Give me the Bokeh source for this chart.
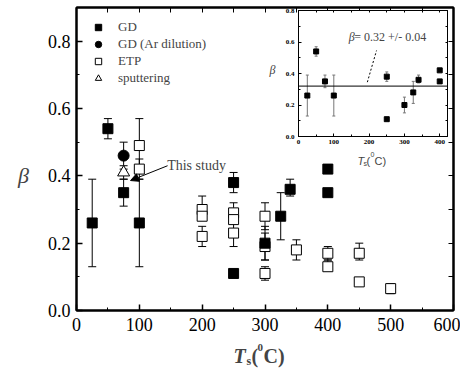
from bokeh.plotting import figure
from bokeh.models import (Range1d, LinearAxis, Whisker, TeeHead, ColumnDataSource, Legend, LegendItem,
                          Label, Arrow, NormalHead, Span, SingleIntervalTicker, FixedTicker,
                          PrintfTickFormatter)
from bokeh.embed import file_html
from bokeh.resources import INLINE

# ---------------- data ----------------
gd_T = [25, 50, 75, 100, 250, 250, 300, 325, 340, 400, 400]
gd_beta = [0.26, 0.54, 0.35, 0.26, 0.38, 0.11, 0.20, 0.28, 0.36, 0.42, 0.35]
gd_err_T = [25, 50, 75, 100, 250, 300, 325, 340]
gd_err_lo = [0.13, 0.51, 0.31, 0.13, 0.35, 0.15, 0.21, 0.34]
gd_err_hi = [0.39, 0.57, 0.39, 0.39, 0.41, 0.25, 0.35, 0.39]

ar_T = [75]
ar_beta = [0.46]
ar_lo = [0.42]
ar_hi = [0.50]

sp_T = [75]
sp_beta = [0.41]
sp_lo = [0.39]
sp_hi = [0.43]

etp_T = [100, 100, 200, 200, 200, 250, 250, 250, 300, 300, 300, 350, 400, 400, 450, 450, 500]
etp_beta = [0.49, 0.42, 0.30, 0.28, 0.22, 0.29, 0.27, 0.23, 0.28, 0.19, 0.11, 0.18, 0.17, 0.13, 0.17, 0.085, 0.065]
etp_err_T = [100, 100, 200, 200, 250, 250, 300, 300, 300, 350, 400, 400, 450, 500]
etp_err_lo = [0.41, 0.39, 0.27, 0.19, 0.27, 0.19, 0.24, 0.15, 0.09, 0.15, 0.15, 0.12, 0.15, 0.05]
etp_err_hi = [0.57, 0.45, 0.34, 0.25, 0.32, 0.26, 0.32, 0.23, 0.13, 0.21, 0.19, 0.15, 0.20, 0.08]

fit_beta = 0.32
fit_label = "= 0.32 +/- 0.04"
main_x_minor = [v * 50 for v in range(0, 13)]
main_y_minor = [v / 10 for v in range(0, 10)]
inset_x_minor = [v * 50 for v in range(0, 9)]
inset_y_minor = [v / 10 for v in range(0, 9)]

SERIF = "Liberation Serif"
SANS = "Liberation Sans"

# ---------------- main figure ----------------
p = figure(frame_width=377, frame_height=303, x_range=Range1d(0, 600), y_range=Range1d(0, 0.9),
           output_backend="svg", toolbar_location=None,
           min_border_left=76, min_border_right=7, min_border_top=7, min_border_bottom=50)
p.grid.visible = False
p.outline_line_color = "black"
p.outline_line_width = 2
p.background_fill_color = "white"
p.border_fill_color = "white"

def style_axis(ax, size="18px", tick_in=6, minor_in=3, lw=2):
    ax.axis_line_width = lw
    ax.axis_line_color = "black"
    ax.major_tick_in = tick_in
    ax.major_tick_out = 0
    ax.minor_tick_in = minor_in
    ax.minor_tick_out = 0
    ax.major_tick_line_width = 1.5 if lw >= 2 else 1
    ax.minor_tick_line_width = 1
    ax.major_label_text_font = SERIF
    ax.major_label_text_font_size = size
    ax.major_label_text_color = "black"

def mirror_axis(minor, tick_len, lw):
    ax = LinearAxis(ticker=FixedTicker(ticks=[], minor_ticks=minor))
    ax.axis_line_width = lw
    ax.major_tick_in = 0
    ax.major_tick_out = 0
    ax.minor_tick_in = tick_len
    ax.minor_tick_out = 0
    ax.minor_tick_line_width = 1
    ax.major_label_standoff = 0
    return ax

p.xaxis.ticker = SingleIntervalTicker(interval=100, num_minor_ticks=2)
p.yaxis.ticker = SingleIntervalTicker(interval=0.2, num_minor_ticks=2)
style_axis(p.xaxis[0])
style_axis(p.yaxis[0])
p.xaxis.major_label_standoff = 7
p.yaxis.major_label_standoff = 6
p.yaxis.formatter = PrintfTickFormatter(format="%.1f")
p.add_layout(mirror_axis(main_x_minor, 5, 2), "above")
p.add_layout(mirror_axis(main_y_minor, 5, 2), "right")

def whisk(fig, xs, lo, hi, color="black", size=8, width=1):
    src = ColumnDataSource(dict(x=xs, lo=lo, hi=hi))
    w = Whisker(source=src, base="x", lower="lo", upper="hi", line_color=color, line_width=width,
                upper_head=TeeHead(size=size, line_color=color, line_width=width),
                lower_head=TeeHead(size=size, line_color=color, line_width=width))
    fig.add_layout(w)

whisk(p, gd_err_T, gd_err_lo, gd_err_hi)
whisk(p, etp_err_T, etp_err_lo, etp_err_hi)
whisk(p, ar_T, ar_lo, ar_hi)
whisk(p, sp_T, sp_lo, sp_hi)

r_etp = p.scatter(etp_T, etp_beta, marker="square", size=10, fill_color="white", line_color="black", line_width=1)
r_gd = p.scatter(gd_T, gd_beta, marker="square", size=10, fill_color="black", line_color="black")
r_ar = p.scatter(ar_T, ar_beta, marker="circle", size=11, fill_color="black", line_color="black")
r_sp = p.scatter(sp_T, sp_beta, marker="triangle", size=12, fill_color="white", line_color="black", line_width=1)

legend = Legend(items=[LegendItem(label="GD", renderers=[r_gd]),
                       LegendItem(label="GD (Ar dilution)", renderers=[r_ar]),
                       LegendItem(label="ETP", renderers=[r_etp]),
                       LegendItem(label="sputtering", renderers=[r_sp])],
                location="top_left", margin=7, padding=5, glyph_width=20, glyph_height=16,
                label_height=16, spacing=1, label_standoff=10,
                label_text_font=SERIF, label_text_font_size="13px",
                border_line_alpha=0, background_fill_alpha=0)
p.add_layout(legend, "center")

p.add_layout(Label(x=191, y=0.43, text="This study", text_font=SERIF, text_font_size="14px",
                   text_align="center", text_baseline="middle"))
p.add_layout(Arrow(x_start=145, y_start=0.43, x_end=86, y_end=0.386, line_width=1,
                   end=NormalHead(size=8, fill_color="black", line_color="black")))

# ---------------- inset ----------------
q = figure(frame_width=149, frame_height=126, x_range=Range1d(0, 422), y_range=Range1d(0, 0.8),
           output_backend="svg", toolbar_location=None,
           min_border_left=36, min_border_right=3, min_border_top=2, min_border_bottom=14)
q.grid.visible = False
q.outline_line_color = "black"
q.outline_line_width = 1
q.background_fill_color = "white"
q.border_fill_alpha = 0
q.xaxis.ticker = SingleIntervalTicker(interval=100, num_minor_ticks=2)
q.yaxis.ticker = SingleIntervalTicker(interval=0.2, num_minor_ticks=2)
style_axis(q.xaxis[0], size="7px", tick_in=3, minor_in=2, lw=1)
style_axis(q.yaxis[0], size="7px", tick_in=3, minor_in=2, lw=1)
q.xaxis.major_label_text_font_style = "bold"
q.yaxis.major_label_text_font_style = "bold"
q.yaxis.formatter = PrintfTickFormatter(format="%.1f")
q.xaxis.major_label_standoff = 3
q.yaxis.major_label_standoff = 4
q.add_layout(mirror_axis(inset_x_minor, 2, 1), "above")
q.add_layout(mirror_axis(inset_y_minor, 2, 1), "right")

q.add_layout(Span(location=fit_beta, dimension="width", line_color="black", line_width=1))
whisk(q, gd_err_T, gd_err_lo, gd_err_hi, color="#777777", size=3, width=1)
q.scatter(gd_T, gd_beta, marker="square", size=5, fill_color="black", line_color="black")
q.line([195, 221], [0.345, 0.546], line_color="black", line_width=1, line_dash="2 2")
q.add_layout(Label(x=142, y=0.63, text="β", text_font=SERIF, text_font_style="italic",
                   text_font_size="12px", text_align="left", text_baseline="middle"))
q.add_layout(Label(x=158, y=0.63, text=fit_label, text_font=SERIF,
                   text_font_size="12px", text_align="left", text_baseline="middle"))
q.styles = {"position": "absolute", "left": "262px", "top": "8px", "z-index": "10"}

# ---------------- overlay for axis titles (page pixel coordinates) ----------------
a = figure(width=468, height=370, x_range=Range1d(0, 468), y_range=Range1d(370, 0),
           output_backend="svg", toolbar_location=None, x_axis_type=None, y_axis_type=None,
           min_border=0)
a.grid.visible = False
a.outline_line_color = None
a.background_fill_alpha = 0
a.border_fill_alpha = 0
a.styles = {"position": "absolute", "left": "0px", "top": "0px", "z-index": "20",
            "pointer-events": "none"}

def lab(x, y, t, size, style="normal", font=SERIF, align="left", base="alphabetic"):
    a.add_layout(Label(x=x, y=y, text=t, text_font=font, text_font_style=style,
                       text_font_size=size, text_align=align, text_baseline=base))

# main axis titles
lab(23, 175, "β", "22px", "italic", align="center", base="middle")
lab(233, 355, "T", "20px", "bold italic")
lab(246, 360, "s", "12px", "bold")
lab(251, 355, "(", "20px", "bold")
lab(257, 347, "0", "11px", "bold")
lab(263, 355, "C)", "20px", "bold")
# inset axis titles
lab(272, 69, "β", "12px", "italic", align="center", base="middle")
lab(357, 160, "T", "11px", "italic", font=SANS)
lab(363, 163, "s", "7px", font=SANS)
lab(366, 160, "(", "11px", font=SANS)
lab(370, 154, "0", "7px", font=SANS)
lab(374, 160, "C)", "11px", font=SANS)

open("out.html", "w").write(file_html([p, q, a], INLINE))
